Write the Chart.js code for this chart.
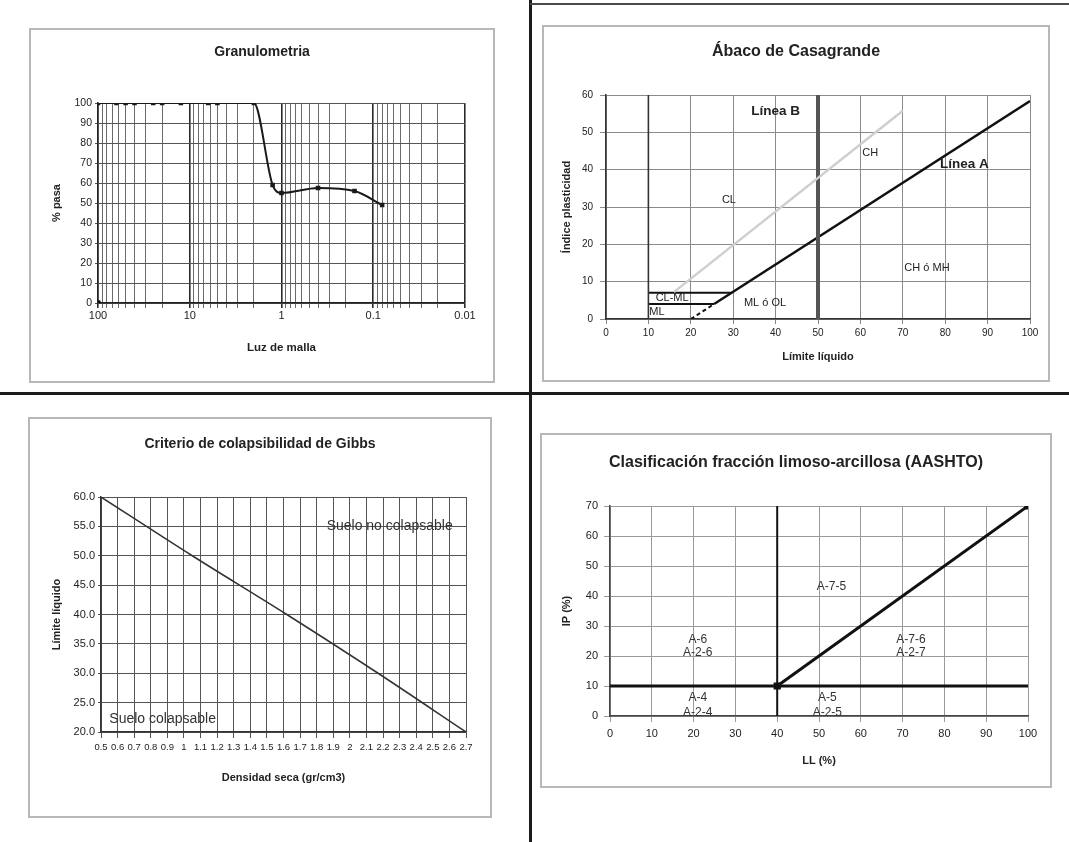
<!DOCTYPE html>
<html>
<head>
<meta charset="utf-8">
<title>Ensayos de suelo</title>
<script src="https://cdn.jsdelivr.net/npm/chart.js@4.4.1/dist/chart.umd.min.js"></script>
<style>
  html, body { margin: 0; padding: 0; background: #fff; }
  body { width: 1069px; height: 842px; position: relative; overflow: hidden; }
  .frame { position: absolute; box-sizing: border-box; border: 2px solid #b8b8b8; }
  .plot { position: absolute; }
  .rule { position: absolute; background: #1c1c1c; }
</style>
</head>
<body>
<!-- sheet separators -->
<div class="rule" style="left:529px;top:0;width:3px;height:842px"></div>
<div class="rule" style="left:0;top:392px;width:1069px;height:3px"></div>
<div class="rule" style="left:530px;top:3px;width:539px;height:2px;background:#4a4a4a"></div>

<div class="frame" style="left:29px;top:28px;width:466px;height:355px"></div>
<canvas id="gran" class="plot" width="466" height="355" style="left:29px;top:28px"></canvas>

<div class="frame" style="left:542px;top:25px;width:508px;height:357px"></div>
<canvas id="casa" class="plot" width="508" height="357" style="left:542px;top:25px"></canvas>

<div class="frame" style="left:28px;top:417px;width:464px;height:401px"></div>
<canvas id="gibbs" class="plot" width="464" height="401" style="left:28px;top:417px"></canvas>

<div class="frame" style="left:540px;top:433px;width:512px;height:355px"></div>
<canvas id="aashto" class="plot" width="512" height="355" style="left:540px;top:433px"></canvas>

<script>
// ---------- Granulometría ----------
const GRAN_SIEVE_MM = [100, 63, 50, 40, 25, 20, 12.5, 6.3, 5, 2, 1.25, 1, 0.4, 0.16, 0.08];
const GRAN_PASSING  = [100, 100, 100, 100, 100, 100, 100, 100, 100, 100, 59, 55, 57.5, 56, 49];
const GRAN_ORIGIN_MM = [100];
const GRAN_ORIGIN_PASS = [0];
const GRAN_DECADES = [100, 10, 1, 0.1, 0.01];
const GRAN_DECADE_LABELS = ['100', '10', '1', '0.1', '0.01'];
const GRAN_Y_TICKS = [0, 10, 20, 30, 40, 50, 60, 70, 80, 90, 100];

// ---------- Ábaco de Casagrande ----------
const CASA_X_TICKS = [0, 10, 20, 30, 40, 50, 60, 70, 80, 90, 100];
const CASA_Y_TICKS = [0, 10, 20, 30, 40, 50, 60];
const CASA_LINE_U_LL = [16, 70];
const CASA_LINE_U_PI = [7.2, 55.8];
const CASA_LINE_A_DASH_LL = [20, 25.5];
const CASA_LINE_A_DASH_PI = [0, 4];
const CASA_LINE_A_LL = [25.5, 100];
const CASA_LINE_A_PI = [4, 58.4];
const CASA_LINE_B_LL = [50, 50];
const CASA_LINE_B_PI = [0, 60];
const CASA_LL10_LL = [10, 10];
const CASA_LL10_PI = [0, 60];
const CASA_PI7_LL = [10, 29.6];
const CASA_PI7_PI = [7, 7];
const CASA_PI4_LL = [10, 25.5];
const CASA_PI4_PI = [4, 4];
const CASA_LABELS   = ['Línea B', 'CH', 'Línea A', 'CL', 'CH ó MH', 'ML ó OL', 'CL-ML', 'ML'];
const CASA_LABEL_LL = [40, 62.3, 84.5, 29, 75.7, 37.5, 15.6, 12];
const CASA_LABEL_PI = [55.7, 44.5, 41.5, 31.9, 13.7, 4.3, 5.5, 1.9];
const CASA_LABEL_BOLD = [true, false, true, false, false, false, false, false];

// ---------- Criterio de Gibbs ----------
const GIBBS_X_TICKS = [0.5, 0.6, 0.7, 0.8, 0.9, 1.0, 1.1, 1.2, 1.3, 1.4, 1.5, 1.6, 1.7, 1.8, 1.9, 2.0, 2.1, 2.2, 2.3, 2.4, 2.5, 2.6, 2.7];
const GIBBS_X_LABELS = ['0.5', '0.6', '0.7', '0.8', '0.9', '1', '1.1', '1.2', '1.3', '1.4', '1.5', '1.6', '1.7', '1.8', '1.9', '2', '2.1', '2.2', '2.3', '2.4', '2.5', '2.6', '2.7'];
const GIBBS_Y_TICKS = [20, 25, 30, 35, 40, 45, 50, 55, 60];
const GIBBS_Y_LABELS = ['20.0', '25.0', '30.0', '35.0', '40.0', '45.0', '50.0', '55.0', '60.0'];
const GIBBS_DENSITY = [0.5, 1.05, 1.62, 2.17, 2.7];
const GIBBS_LL = [60, 50, 40, 30, 20];
const GIBBS_NOTES = ['Suelo no colapsable', 'Suelo colapsable'];
const GIBBS_NOTE_X = [1.86, 0.55];
const GIBBS_NOTE_Y = [55.1, 22.2];

// ---------- Clasificación AASHTO ----------
const AAS_X_TICKS = [0, 10, 20, 30, 40, 50, 60, 70, 80, 90, 100];
const AAS_Y_TICKS = [0, 10, 20, 30, 40, 50, 60, 70];
const AAS_PI10_LL = [0, 100];
const AAS_PI10_PI = [10, 10];
const AAS_LL40_LL = [40, 40];
const AAS_LL40_PI = [0, 70];
const AAS_DIAG_LL = [40, 100];
const AAS_DIAG_PI = [10, 70];
const AAS_LABELS   = ['A-7-5', 'A-6', 'A-2-6', 'A-7-6', 'A-2-7', 'A-4', 'A-2-4', 'A-5', 'A-2-5'];
const AAS_LABEL_LL = [53, 21, 21, 72, 72, 21, 21, 52, 52];
const AAS_LABEL_PI = [43, 25.6, 21, 25.6, 21, 6, 1.2, 6, 1.2];

// ---------- helpers ----------
const FONT = '"Liberation Sans", Arial, Helvetica, sans-serif';
Chart.defaults.font.family = FONT;
Chart.defaults.color = '#222';
Chart.defaults.animation = false;

const pts = (xs, ys) => xs.map((x, i) => ({ x, y: ys[i] }));

// text written at data coordinates inside the plot
const textMarks = {
  id: 'textMarks',
  afterDatasetsDraw(chart, args, opts) {
    const { ctx, scales } = chart;
    (opts.items || []).forEach(it => {
      ctx.save();
      ctx.font = (it.bold ? 'bold ' : '') + it.size + 'px ' + FONT;
      ctx.fillStyle = it.color || '#222';
      ctx.textAlign = it.align || 'center';
      ctx.textBaseline = 'middle';
      ctx.fillText(it.text, scales.x.getPixelForValue(it.x), scales.y.getPixelForValue(it.y));
      ctx.restore();
    });
  }
};

function fixedTicks(values) {
  return scale => { scale.ticks = values.map(v => ({ value: v })); };
}

// empty right-hand strip so the plot keeps a margin while the title stays centred on the frame
function rightGap(px) {
  return {
    type: 'linear', position: 'right', display: true,
    grid: { display: false, drawTicks: false }, border: { display: false },
    ticks: { display: false }, afterFit: s => { s.width = px; }
  };
}

function lineSet(data, color, width, extra) {
  return Object.assign({ data, borderColor: color, backgroundColor: color, borderWidth: width,
    pointRadius: 0, showLine: true, fill: false, tension: 0 }, extra || {});
}

// ---------- Granulometría ----------
const granGrid = [];
for (let e = -2; e <= 1; e++) {
  for (let m = 1; m <= 9; m++) granGrid.push(+(m * Math.pow(10, e)).toPrecision(3));
}
granGrid.push(100);
const isDecade = v => GRAN_DECADES.some(d => Math.abs(d - v) < 1e-9);

new Chart(document.getElementById('gran'), {
  type: 'scatter',
  data: {
    datasets: [
      lineSet(pts(GRAN_SIEVE_MM, GRAN_PASSING), '#1a1a1a', 2, {
        cubicInterpolationMode: 'monotone', pointRadius: 1.8, pointStyle: 'rect',
        pointBackgroundColor: '#1a1a1a', pointBorderColor: '#1a1a1a'
      }),
      lineSet(pts(GRAN_ORIGIN_MM, GRAN_ORIGIN_PASS), '#111', 1, {
        showLine: false, pointRadius: 3, pointStyle: 'rect'
      })
    ]
  },
  options: {
    responsive: false,
    layout: { padding: 0 },
    plugins: {
      legend: { display: false },
      tooltip: { enabled: false },
      title: { display: true, text: 'Granulometria', color: '#222',
        font: { size: 14, weight: 'bold' }, padding: { top: 15.6, bottom: 42.6 } }
    },
    scales: {
      x: {
        type: 'logarithmic', reverse: true, min: 0.01, max: 100,
        afterBuildTicks: scale => { scale.ticks = granGrid.map(v => ({ value: v, major: isDecade(v) })); },
        afterFit: s => { s.height = 80; },
        ticks: { autoSkip: false, maxRotation: 0, padding: 1, font: { size: 11 },
          callback: v => { const i = GRAN_DECADES.findIndex(d => Math.abs(d - v) < 1e-9); return i >= 0 ? GRAN_DECADE_LABELS[i] : ''; } },
        grid: { color: c => isDecade(c.tick.value) ? '#2a2a2a' : '#6a6a6a',
                lineWidth: c => isDecade(c.tick.value) ? 1.6 : 1, tickLength: 5 },
        border: { color: '#222', width: 1.5 },
        title: { display: true, text: 'Luz de malla', font: { size: 11.5, weight: 'bold' }, padding: { top: 0, bottom: 28.1 } }
      },
      y: {
        min: 0, max: 100,
        afterBuildTicks: fixedTicks(GRAN_Y_TICKS),
        afterFit: s => { s.width = 69; },
        ticks: { padding: 3, font: { size: 10.5 } },
        grid: { color: '#555', lineWidth: 1, tickLength: 3 },
        border: { color: '#222', width: 1.5 },
        title: { display: true, text: '% pasa', font: { size: 11, weight: 'bold' }, padding: { top: 21.4, bottom: 0 } }
      },
      gap: rightGap(30)
    }
  }
});

// ---------- Ábaco de Casagrande ----------
new Chart(document.getElementById('casa'), {
  type: 'scatter',
  plugins: [textMarks],
  data: {
    datasets: [
      lineSet(pts(CASA_LINE_U_LL, CASA_LINE_U_PI), '#cfcfcf', 2.5),
      lineSet(pts(CASA_LL10_LL, CASA_LL10_PI), '#333', 1.6),
      lineSet(pts(CASA_LINE_B_LL, CASA_LINE_B_PI), '#555', 4),
      lineSet(pts(CASA_PI7_LL, CASA_PI7_PI), '#111', 2),
      lineSet(pts(CASA_PI4_LL, CASA_PI4_PI), '#111', 2),
      lineSet(pts(CASA_LINE_A_DASH_LL, CASA_LINE_A_DASH_PI), '#111', 2, { borderDash: [4, 3] }),
      lineSet(pts(CASA_LINE_A_LL, CASA_LINE_A_PI), '#111', 2.5)
    ]
  },
  options: {
    responsive: false,
    layout: { padding: 0 },
    plugins: {
      legend: { display: false },
      tooltip: { enabled: false },
      title: { display: true, text: 'Ábaco de Casagrande', color: '#222',
        font: { size: 16, weight: 'bold' }, padding: { top: 17.4, bottom: 33.4 } },
      textMarks: {
        items: CASA_LABELS.map((t, i) => ({ text: t, x: CASA_LABEL_LL[i], y: CASA_LABEL_PI[i],
          bold: CASA_LABEL_BOLD[i], size: CASA_LABEL_BOLD[i] ? 13.5 : 11 }))
      }
    },
    scales: {
      x: {
        type: 'linear', min: 0, max: 100,
        afterBuildTicks: fixedTicks(CASA_X_TICKS),
        afterFit: s => { s.height = 63; },
        ticks: { padding: 3, font: { size: 10 } },
        grid: { color: '#8a8a8a', lineWidth: 1, tickLength: 5 },
        border: { color: '#333', width: 1.5 },
        title: { display: true, text: 'Límite líquido', font: { size: 11, weight: 'bold' }, padding: { top: 0, bottom: 18.4 } }
      },
      y: {
        min: 0, max: 60,
        afterBuildTicks: fixedTicks(CASA_Y_TICKS),
        afterFit: s => { s.width = 64; },
        ticks: { padding: 7, font: { size: 10 } },
        grid: { color: '#8a8a8a', lineWidth: 1, tickLength: 6 },
        border: { color: '#333', width: 1.5 },
        title: { display: true, text: 'Índice plasticidad', font: { size: 11, weight: 'bold' }, padding: { top: 18.4, bottom: 0 } }
      },
      gap: rightGap(20)
    }
  }
});

// ---------- Criterio de colapsibilidad de Gibbs ----------
new Chart(document.getElementById('gibbs'), {
  type: 'scatter',
  plugins: [textMarks],
  data: {
    datasets: [ lineSet(pts(GIBBS_DENSITY, GIBBS_LL), '#333', 1.5, { cubicInterpolationMode: 'monotone' }) ]
  },
  options: {
    responsive: false,
    layout: { padding: 0 },
    plugins: {
      legend: { display: false },
      tooltip: { enabled: false },
      title: { display: true, text: 'Criterio de colapsibilidad de Gibbs', color: '#222',
        font: { size: 14, weight: 'bold' }, padding: { top: 18.6, bottom: 44.6 } },
      textMarks: {
        items: GIBBS_NOTES.map((t, i) => ({ text: t, x: GIBBS_NOTE_X[i], y: GIBBS_NOTE_Y[i],
          size: 14, align: 'left', color: '#333' }))
      }
    },
    scales: {
      x: {
        type: 'linear', min: 0.5, max: 2.7,
        afterBuildTicks: fixedTicks(GIBBS_X_TICKS),
        afterFit: s => { s.height = 86; },
        ticks: { autoSkip: false, maxRotation: 0, padding: 4, font: { size: 9.5 },
          callback: (v, i) => GIBBS_X_LABELS[i] },
        grid: { color: '#555', lineWidth: 1, tickLength: 6 },
        border: { color: '#333', width: 1.5 },
        title: { display: true, text: 'Densidad seca (gr/cm3)', font: { size: 11, weight: 'bold' }, padding: { top: 0, bottom: 33.4 } }
      },
      y: {
        min: 20, max: 60,
        afterBuildTicks: fixedTicks(GIBBS_Y_TICKS),
        afterFit: s => { s.width = 73; },
        ticks: { padding: 3, font: { size: 11 }, callback: (v, i) => GIBBS_Y_LABELS[i] },
        grid: { color: '#555', lineWidth: 1, tickLength: 3 },
        border: { color: '#333', width: 1.5 },
        title: { display: true, text: 'Límite líquido', font: { size: 11, weight: 'bold' }, padding: { top: 22.4, bottom: 0 } }
      },
      gap: rightGap(26)
    }
  }
});

// ---------- Clasificación fracción limoso-arcillosa (AASHTO) ----------
new Chart(document.getElementById('aashto'), {
  type: 'scatter',
  plugins: [textMarks],
  data: {
    datasets: [
      lineSet(pts(AAS_PI10_LL, AAS_PI10_PI), '#111', 3),
      lineSet(pts(AAS_LL40_LL, AAS_LL40_PI), '#111', 2),
      lineSet(pts(AAS_DIAG_LL, AAS_DIAG_PI), '#111', 3, { pointRadius: 3, pointStyle: 'rect' })
    ]
  },
  options: {
    responsive: false,
    layout: { padding: 0 },
    plugins: {
      legend: { display: false },
      tooltip: { enabled: false },
      title: { display: true, text: 'Clasificación fracción limoso-arcillosa (AASHTO)', color: '#222',
        font: { size: 16, weight: 'bold' }, padding: { top: 20.4, bottom: 33.4 } },
      textMarks: {
        items: AAS_LABELS.map((t, i) => ({ text: t, x: AAS_LABEL_LL[i], y: AAS_LABEL_PI[i], size: 12, color: '#333' }))
      }
    },
    scales: {
      x: {
        type: 'linear', min: 0, max: 100,
        afterBuildTicks: fixedTicks(AAS_X_TICKS),
        afterFit: s => { s.height = 72; },
        ticks: { padding: 5, font: { size: 11 } },
        grid: { color: '#9a9a9a', lineWidth: 1, tickLength: 6 },
        border: { color: '#444', width: 1.5 },
        title: { display: true, text: 'LL (%)', font: { size: 11, weight: 'bold' }, padding: { top: 0, bottom: 20.4 } }
      },
      y: {
        min: 0, max: 70,
        afterBuildTicks: fixedTicks(AAS_Y_TICKS),
        afterFit: s => { s.width = 70; },
        ticks: { padding: 6, font: { size: 11 } },
        grid: { color: '#9a9a9a', lineWidth: 1, tickLength: 6 },
        border: { color: '#444', width: 1.5 },
        title: { display: true, text: 'IP (%)', font: { size: 11, weight: 'bold' }, padding: { top: 20.4, bottom: 0 } }
      },
      gap: rightGap(24)
    }
  }
});
</script>
</body>
</html>
